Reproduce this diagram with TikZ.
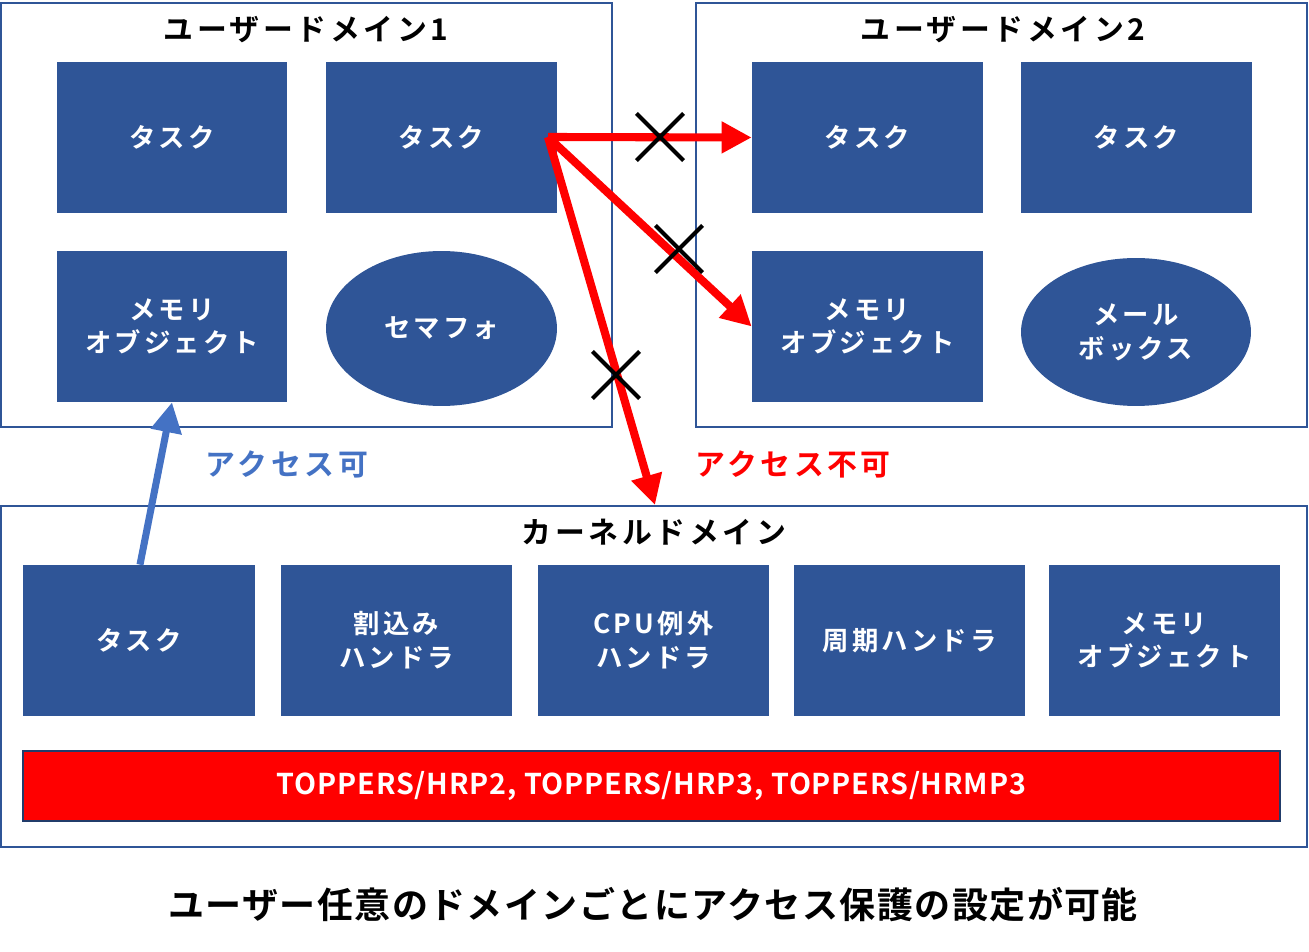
\documentclass[tikz,border=0pt]{standalone}
\usepackage{fontspec}
\setmainfont{Noto Sans CJK JP}[BoldFont={Noto Sans CJK JP Bold}]
\usetikzlibrary{arrows.meta,shapes.geometric,shapes.misc}
\definecolor{boxblue}{HTML}{2F5597}
\definecolor{linkblue}{HTML}{4472C4}

\begin{document}
\begin{tikzpicture}[x=0.02cm,y=-0.02cm,
   every node/.style={font=\bfseries\addfontfeature{LetterSpace=12}},
   frame/.style={draw=boxblue,line width=1.2pt,inner sep=0pt},
   obj/.style={fill=boxblue,text=white,minimum width=4.62cm,minimum height=3.02cm,
      inner sep=0pt,align=center,font=\fontsize{15}{19.3}\bfseries\addfontfeature{LetterSpace=12}},
   sem/.style={obj,ellipse},
   ttl/.style={font=\fontsize{17}{20}\bfseries\addfontfeature{LetterSpace=12}},
   deny/.style={red,line width=4.6pt,-{Triangle[length=0.6cm,width=0.6cm]}},
   allow/.style={linkblue,line width=4pt,-{Triangle[length=0.6cm,width=0.6cm]}},
   ban/.style={cross out,draw=black,line width=2.4pt,minimum size=0.86cm,inner sep=0pt}]
\useasboundingbox (0,0) rectangle (1309,952);
% frames
\node[frame,minimum width=12.22cm,minimum height=8.48cm] (dom1) at (306.5,215) {};
\node[frame,minimum width=12.22cm,minimum height=8.48cm] (dom2) at (1001.5,215) {};
\node[frame,minimum width=26.12cm,minimum height=6.82cm] (kdom) at (654,676.5) {};
\node[ttl] (t1) at (306,30) {ユーザードメイン1};
\node[ttl] (t2) at (1003,30) {ユーザードメイン2};
\node[ttl] (tk) at (654,532) {カーネルドメイン};
% user domain 1
\node[obj] (tsk11) at (172,137.5) {タスク};
\node[obj] (tsk12) at (441.5,137.5) {タスク};
\node[obj] (mem1) at (172,326.5) {メモリ\\オブジェクト};
\node[sem,minimum width=4.62cm,minimum height=3.1cm] (sema) at (441.5,328.5) {セマフォ};
% user domain 2
\node[obj] (tsk21) at (867.5,137.5) {タスク};
\node[obj] (tsk22) at (1136.5,137.5) {タスク};
\node[obj] (mem2) at (867.5,326.5) {メモリ\\オブジェクト};
\node[sem,minimum width=4.6cm,minimum height=2.96cm] (mbx) at (1136,332) {メール\\ボックス};
% kernel domain
\node[obj,minimum width=4.64cm] (ktsk) at (139,640.5) {タスク};
\node[obj] (kint) at (396.5,640.5) {割込み\\ハンドラ};
\node[obj] (kexc) at (653.5,640.5) {CPU例外\\ハンドラ};
\node[obj] (kcyc) at (909.5,640.5) {周期ハンドラ};
\node[obj] (kmem) at (1164.5,640.5) {メモリ\\オブジェクト};
\node[draw=boxblue!70!black,line width=1pt,fill=red,text=white,minimum width=25.14cm,
   minimum height=1.4cm,inner sep=0pt,font=\fontsize{16.3}{19}\bfseries\addfontfeature{LetterSpace=3}]
   (os) at (651.5,786) {TOPPERS/HRP2, TOPPERS/HRP3, TOPPERS/HRMP3};
% access
\coordinate (src) at (548,137);
\coordinate (kin) at (655,505);
\draw[deny] (src) -- (tsk21.west);
\draw[deny] (src) -- (mem2.west);
\draw[deny] (src) -- (kin);
\node[ban] (x1) at (660,137) {};
\node[ban] (x2) at (679,249) {};
\node[ban] (x3) at (616,375) {};
\draw[allow] (ktsk.north) ++(1,0) coordinate (kup) (kup) -- (mem1.south);
\node[ttl,text=linkblue] (ok) at (287,464) {アクセス可};
\node[ttl,text=red] (ng) at (793,464) {アクセス不可};
\node[font=\fontsize{20.5}{24}\bfseries\addfontfeature{LetterSpace=4}] (cap) at (653,905)
   {ユーザー任意のドメインごとにアクセス保護の設定が可能};
\end{tikzpicture}
\end{document}
